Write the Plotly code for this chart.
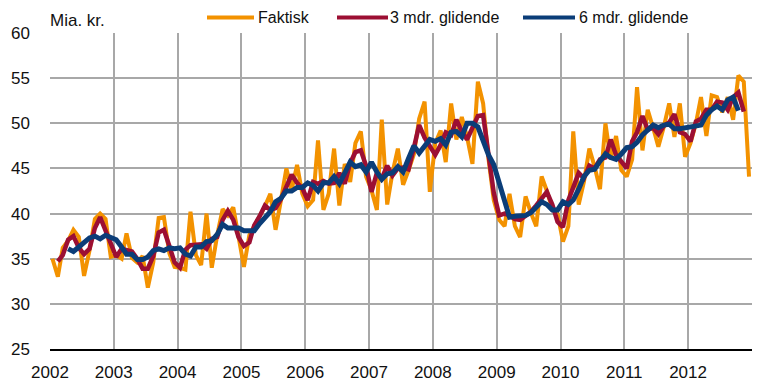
import pandas as pd
import plotly.graph_objects as go

# Monthly observations, Jan 2002 - Dec 2012 (mid-month positions)
months = pd.date_range("2002-01-01", periods=132, freq="MS") + pd.Timedelta(days=14)

faktisk = [
    35.0, 33.0, 36.2, 37.0, 38.2, 37.4, 33.1, 35.9, 39.4, 40.0, 39.4, 35.2,  # 2002
    35.4, 35.0, 37.8, 35.1, 34.6, 35.3, 31.8, 34.6, 39.5, 39.6, 35.6, 34.1,  # 2003
    34.0, 33.8, 40.2, 35.4, 34.3, 40.0, 34.0, 37.6, 40.5, 39.8, 40.7, 37.5,  # 2004
    34.1, 37.6, 38.6, 39.8, 40.8, 42.2, 38.2, 41.5, 45.0, 42.6, 45.4, 42.2,  # 2005
    40.8, 41.5, 48.1, 40.4, 42.2, 47.2, 40.9, 45.5, 43.5, 47.8, 49.1, 44.1,  # 2006
    42.6, 40.4, 50.4, 41.0, 44.5, 47.2, 43.2, 44.8, 46.6, 50.5, 52.4, 42.4,  # 2007
    47.8, 49.2, 45.7, 52.2, 48.2, 50.7, 48.5, 45.5, 54.6, 52.2, 46.0, 41.5,  # 2008
    39.3, 38.6, 42.2, 38.6, 37.4, 41.9, 40.1, 38.6, 44.1, 42.5, 40.5, 40.0,  # 2009
    36.9, 38.6, 49.1, 41.0, 43.5, 47.2, 45.2, 42.7, 50.0, 46.0, 48.6, 44.8,  # 2010
    44.1, 46.0, 54.0, 47.0, 51.5, 49.5, 47.4, 49.6, 52.2, 48.5, 52.2, 46.3,  # 2011
    47.8, 50.0, 52.9, 48.6, 53.1, 52.9, 51.2, 52.9, 50.4, 55.3, 54.6, 44.1,  # 2012
]

# 3-month moving average, Feb 2002 - Nov 2012
glid3 = [
    34.7, 35.4, 37.1, 37.5, 36.2, 35.5, 36.1, 38.4, 39.6, 38.2,
    36.7, 35.2, 36.1, 36.0, 35.8, 35.0, 33.9, 33.9, 35.3, 37.9,
    38.2, 36.4, 34.6, 34.0, 36.0, 36.5, 36.6, 36.6, 36.1, 37.2,
    37.4, 39.3, 40.3, 39.3, 37.4, 36.4, 36.8, 38.7, 39.7, 40.9,
    40.4, 40.6, 41.6, 43.0, 44.3, 43.4, 42.8, 41.5, 43.5, 43.3,
    43.6, 43.3, 43.4, 44.5, 43.3, 45.6, 46.8, 47.0, 45.3, 42.4,
    44.5, 43.9, 45.3, 44.2, 45.0, 45.1, 44.9, 47.3, 49.8, 48.4,
    47.5, 46.5, 47.6, 49.0, 48.7, 50.4, 49.1, 48.2, 49.5, 50.8,
    50.9, 46.6, 42.3, 39.8, 40.0, 39.8, 39.4, 39.3, 39.8, 40.2,
    40.9, 41.7, 42.4, 41.0, 39.1, 38.5, 41.5, 42.9, 44.5, 43.9,
    45.3, 45.0, 46.0, 46.2, 48.2, 46.5, 45.8, 45.0, 48.0, 49.0,
    50.8, 49.3, 49.5, 48.8, 49.7, 50.1, 51.0, 49.0, 48.8, 48.0,
    50.2, 50.5, 51.5, 51.5, 52.4, 52.3, 51.5, 52.9, 53.4, 51.3,
]

# 6-month moving average, Apr 2002 - Oct 2012
glid6 = [
    36.1, 35.8, 36.3, 36.8, 37.3, 37.5, 37.2, 37.6, 37.4, 37.1,
    36.3, 35.5, 35.5, 34.9, 34.9, 35.2, 35.9, 36.1, 35.9, 36.2,
    36.1, 36.2, 35.5, 35.3, 36.3, 36.3, 36.9, 37.0, 37.7, 38.8,
    38.4, 38.4, 38.4, 38.1, 38.1, 38.1, 38.9, 39.5, 40.2, 41.3,
    41.7, 42.5, 42.5, 42.9, 42.9, 43.4, 43.1, 42.5, 43.4, 43.4,
    44.1, 43.3, 44.5, 45.7, 45.2, 45.4, 44.6, 45.7, 44.6, 43.8,
    44.4, 44.5, 45.2, 44.6, 46.1, 47.5, 46.7, 47.4, 48.2, 48.0,
    48.3, 47.6, 49.0, 49.1, 48.5, 50.0, 50.0, 49.6, 48.1, 46.5,
    45.4, 43.3, 41.0, 39.6, 39.7, 39.8, 39.8, 40.1, 40.8, 41.3,
    41.0, 40.4, 40.4, 41.3, 41.0, 41.5, 42.7, 44.1, 44.8, 44.9,
    45.8, 46.6, 46.2, 46.0, 46.6, 47.3, 47.4, 47.9, 48.7, 49.2,
    49.8, 49.5, 49.8, 49.9, 49.4, 49.4, 49.5, 49.6, 49.6, 49.8,
    50.9, 51.5, 51.9, 51.5, 52.6, 52.9, 51.4,
]

series_names = ["Faktisk", "3 mdr. glidende", "6 mdr. glidende"]
years = list(range(2002, 2014))
year_labels = [str(y) for y in years[:-1]] + [""]
y_ticks = [25, 30, 35, 40, 45, 50, 55, 60]

ORANGE = "#F39200"
RED = "#9C0F33"
BLUE = "#0B3D78"
GRID = "#A8A8A8"
TEXT = "#111111"
FONT = "Liberation Sans, Arial, sans-serif"

W, H = 761, 383
L, R, T, B = 50, 9, 33, 34
PW, PH = W - L - R, H - T - B


def px_x(px):
    return (px - L) / PW


def px_y(py):
    return (H - B - py) / PH


fig = go.Figure()
fig.add_trace(go.Scatter(x=months, y=faktisk, mode="lines", name=series_names[0],
                         line=dict(color=ORANGE, width=4)))
fig.add_trace(go.Scatter(x=months[1:131], y=glid3, mode="lines", name=series_names[1],
                         line=dict(color=RED, width=4.5)))
fig.add_trace(go.Scatter(x=months[3:130], y=glid6, mode="lines", name=series_names[2],
                         line=dict(color=BLUE, width=5)))

fig.update_layout(
    width=W, height=H,
    margin=dict(l=L, r=R, t=T, b=B),
    paper_bgcolor="white", plot_bgcolor="white",
    showlegend=False,
    font=dict(family=FONT, size=16, color=TEXT),
)

fig.update_xaxes(
    type="date",
    range=["2002-01-01", "2013-01-01"],
    tickmode="array",
    tickvals=[f"{y}-01-01" for y in years],
    ticktext=year_labels,
    showgrid=True, gridcolor=GRID, gridwidth=1.5,
    showline=True, linecolor="black", linewidth=2,
    ticks="", ticklabelstandoff=7,
    tickfont=dict(family=FONT, size=17, color=TEXT),
    zeroline=False, automargin=False,
)
fig.update_yaxes(
    range=[25, 60],
    tickmode="array",
    tickvals=y_ticks,
    showgrid=True, gridcolor=GRID, gridwidth=1.5,
    showline=False, ticks="", ticklabelstandoff=19,
    tickfont=dict(family=FONT, size=17, color=TEXT),
    zeroline=False, automargin=False,
)

# Unit label
fig.add_annotation(text="Mia. kr.", xref="paper", yref="paper",
                   x=px_x(48), y=px_y(20), xanchor="left", yanchor="middle",
                   showarrow=False, font=dict(family=FONT, size=17, color=TEXT))

# Legend row
legend_items = [
    (series_names[0], ORANGE, 207, 254, 256),
    (series_names[1], RED, 337, 388, 388),
    (series_names[2], BLUE, 523, 575, 577),
]
for name, color, x0, x1, tx in legend_items:
    fig.add_shape(type="line", xref="paper", yref="paper",
                  x0=px_x(x0), x1=px_x(x1), y0=px_y(17.5), y1=px_y(17.5),
                  line=dict(color=color, width=4))
    fig.add_annotation(text=name, xref="paper", yref="paper",
                       x=px_x(tx), y=px_y(17.5), xanchor="left", yanchor="middle",
                       showarrow=False, font=dict(family=FONT, size=16, color=TEXT))

fig.write_html("out.html")
